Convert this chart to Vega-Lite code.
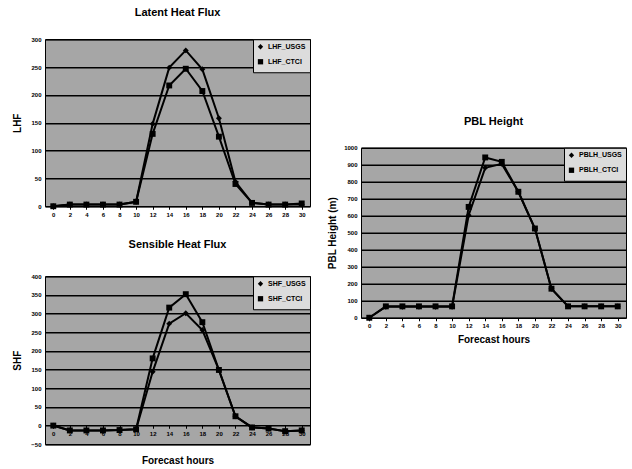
{
  "$schema": "https://vega.github.io/schema/vega-lite/v6.json",
  "background": "white",
  "padding": {"left": 12, "top": 6, "right": 2, "bottom": 2},
  "datasets": {
    "lhf": [
      {"hour": 0, "series": "LHF_USGS", "value": 0}, {"hour": 2, "series": "LHF_USGS", "value": 3}, {"hour": 4, "series": "LHF_USGS", "value": 3}, {"hour": 6, "series": "LHF_USGS", "value": 3}, {"hour": 8, "series": "LHF_USGS", "value": 3}, {"hour": 10, "series": "LHF_USGS", "value": 8}, {"hour": 12, "series": "LHF_USGS", "value": 148}, {"hour": 14, "series": "LHF_USGS", "value": 249}, {"hour": 16, "series": "LHF_USGS", "value": 280}, {"hour": 18, "series": "LHF_USGS", "value": 246}, {"hour": 20, "series": "LHF_USGS", "value": 158}, {"hour": 22, "series": "LHF_USGS", "value": 44}, {"hour": 24, "series": "LHF_USGS", "value": 6}, {"hour": 26, "series": "LHF_USGS", "value": 3}, {"hour": 28, "series": "LHF_USGS", "value": 3}, {"hour": 30, "series": "LHF_USGS", "value": 3},
      {"hour": 0, "series": "LHF_CTCI", "value": 0}, {"hour": 2, "series": "LHF_CTCI", "value": 3}, {"hour": 4, "series": "LHF_CTCI", "value": 3}, {"hour": 6, "series": "LHF_CTCI", "value": 3}, {"hour": 8, "series": "LHF_CTCI", "value": 3}, {"hour": 10, "series": "LHF_CTCI", "value": 8}, {"hour": 12, "series": "LHF_CTCI", "value": 130}, {"hour": 14, "series": "LHF_CTCI", "value": 217}, {"hour": 16, "series": "LHF_CTCI", "value": 247}, {"hour": 18, "series": "LHF_CTCI", "value": 207}, {"hour": 20, "series": "LHF_CTCI", "value": 125}, {"hour": 22, "series": "LHF_CTCI", "value": 40}, {"hour": 24, "series": "LHF_CTCI", "value": 6}, {"hour": 26, "series": "LHF_CTCI", "value": 3}, {"hour": 28, "series": "LHF_CTCI", "value": 3}, {"hour": 30, "series": "LHF_CTCI", "value": 5}
    ],
    "shf": [
      {"hour": 0, "series": "SHF_USGS", "value": 0}, {"hour": 2, "series": "SHF_USGS", "value": -13}, {"hour": 4, "series": "SHF_USGS", "value": -13}, {"hour": 6, "series": "SHF_USGS", "value": -13}, {"hour": 8, "series": "SHF_USGS", "value": -12}, {"hour": 10, "series": "SHF_USGS", "value": -10}, {"hour": 12, "series": "SHF_USGS", "value": 144}, {"hour": 14, "series": "SHF_USGS", "value": 273}, {"hour": 16, "series": "SHF_USGS", "value": 301}, {"hour": 18, "series": "SHF_USGS", "value": 256}, {"hour": 20, "series": "SHF_USGS", "value": 149}, {"hour": 22, "series": "SHF_USGS", "value": 25}, {"hour": 24, "series": "SHF_USGS", "value": -5}, {"hour": 26, "series": "SHF_USGS", "value": -8}, {"hour": 28, "series": "SHF_USGS", "value": -15}, {"hour": 30, "series": "SHF_USGS", "value": -13},
      {"hour": 0, "series": "SHF_CTCI", "value": 0}, {"hour": 2, "series": "SHF_CTCI", "value": -13}, {"hour": 4, "series": "SHF_CTCI", "value": -13}, {"hour": 6, "series": "SHF_CTCI", "value": -13}, {"hour": 8, "series": "SHF_CTCI", "value": -12}, {"hour": 10, "series": "SHF_CTCI", "value": -10}, {"hour": 12, "series": "SHF_CTCI", "value": 180}, {"hour": 14, "series": "SHF_CTCI", "value": 316}, {"hour": 16, "series": "SHF_CTCI", "value": 352}, {"hour": 18, "series": "SHF_CTCI", "value": 277}, {"hour": 20, "series": "SHF_CTCI", "value": 149}, {"hour": 22, "series": "SHF_CTCI", "value": 25}, {"hour": 24, "series": "SHF_CTCI", "value": -5}, {"hour": 26, "series": "SHF_CTCI", "value": -8}, {"hour": 28, "series": "SHF_CTCI", "value": -15}, {"hour": 30, "series": "SHF_CTCI", "value": -13}
    ],
    "pbl": [
      {"hour": 0, "series": "PBLH_USGS", "value": 0}, {"hour": 2, "series": "PBLH_USGS", "value": 65}, {"hour": 4, "series": "PBLH_USGS", "value": 65}, {"hour": 6, "series": "PBLH_USGS", "value": 65}, {"hour": 8, "series": "PBLH_USGS", "value": 65}, {"hour": 10, "series": "PBLH_USGS", "value": 65}, {"hour": 12, "series": "PBLH_USGS", "value": 603}, {"hour": 14, "series": "PBLH_USGS", "value": 882}, {"hour": 16, "series": "PBLH_USGS", "value": 905}, {"hour": 18, "series": "PBLH_USGS", "value": 741}, {"hour": 20, "series": "PBLH_USGS", "value": 525}, {"hour": 22, "series": "PBLH_USGS", "value": 171}, {"hour": 24, "series": "PBLH_USGS", "value": 67}, {"hour": 26, "series": "PBLH_USGS", "value": 67}, {"hour": 28, "series": "PBLH_USGS", "value": 67}, {"hour": 30, "series": "PBLH_USGS", "value": 67},
      {"hour": 0, "series": "PBLH_CTCI", "value": 0}, {"hour": 2, "series": "PBLH_CTCI", "value": 67}, {"hour": 4, "series": "PBLH_CTCI", "value": 67}, {"hour": 6, "series": "PBLH_CTCI", "value": 67}, {"hour": 8, "series": "PBLH_CTCI", "value": 67}, {"hour": 10, "series": "PBLH_CTCI", "value": 67}, {"hour": 12, "series": "PBLH_CTCI", "value": 652}, {"hour": 14, "series": "PBLH_CTCI", "value": 943}, {"hour": 16, "series": "PBLH_CTCI", "value": 917}, {"hour": 18, "series": "PBLH_CTCI", "value": 741}, {"hour": 20, "series": "PBLH_CTCI", "value": 525}, {"hour": 22, "series": "PBLH_CTCI", "value": 171}, {"hour": 24, "series": "PBLH_CTCI", "value": 67}, {"hour": 26, "series": "PBLH_CTCI", "value": 67}, {"hour": 28, "series": "PBLH_CTCI", "value": 67}, {"hour": 30, "series": "PBLH_CTCI", "value": 67}
    ]
  },
  "config": {
    "font": "Liberation Sans",
    "view": {"stroke": "black", "strokeWidth": 1, "fill": "#a6a6a6"},
    "axis": {
      "labelFont": "Liberation Sans", "labelFontWeight": "bold", "labelFontSize": 6, "labelColor": "black",
      "titleFont": "Liberation Sans", "titleFontWeight": "bold", "titleFontSize": 10, "titleColor": "black",
      "domainColor": "black", "tickColor": "black", "tickSize": 3, "labelPadding": 2,
      "gridColor": "black", "gridWidth": 1.3, "gridOpacity": 1
    },
    "axisX": {"grid": false, "labelAngle": 0, "domain": false},
    "axisY": {"domain": false, "ticks": false, "labelPadding": 4, "format": "d"},
    "title": {"font": "Liberation Sans", "fontSize": 11, "fontWeight": "bold", "color": "black", "anchor": "middle"},
    "point": {"size": 35},
    "legend": {
      "orient": "top-right", "offset": 0, "padding": 4, "fillColor": "#dcdcdc", "strokeColor": "black",
      "labelFont": "Liberation Sans", "labelFontSize": 7, "labelFontWeight": "bold", "labelColor": "black",
      "rowPadding": 2, "symbolSize": 28, "symbolFillColor": "black", "symbolStrokeColor": "black", "title": null
    }
  },
  "center": true,
  "spacing": 16,
  "hconcat": [
    {
      "spacing": 20,
      "resolve": {"scale": {"shape": "independent"}, "legend": {"shape": "independent"}},
      "vconcat": [
        {
          "title": {"text": "Latent Heat Flux", "offset": 18},
          "width": 265, "height": 167,
          "data": {"name": "lhf"},
          "encoding": {
            "x": {"field": "hour", "type": "ordinal", "scale": {"type": "point", "padding": 0.5}, "axis": {"title": null}},
            "y": {"field": "value", "type": "quantitative", "scale": {"domain": [0, 300], "nice": false}, "axis": {"title": "LHF", "values": [0, 50, 100, 150, 200, 250, 300], "titlePadding": 8}}
          },
          "layer": [
            {"mark": {"type": "line", "color": "black", "strokeWidth": 2}, "encoding": {"detail": {"field": "series"}}},
            {"mark": {"type": "point", "filled": true, "color": "black", "opacity": 1},
             "encoding": {
               "shape": {"field": "series", "type": "nominal", "scale": {"domain": ["LHF_USGS", "LHF_CTCI"], "range": ["diamond", "square"]}}
             }}
          ]
        },
        {
          "title": {"text": "Sensible Heat Flux", "offset": 23},
          "width": 265, "height": 168,
          "data": {"name": "shf"},
          "encoding": {
            "x": {"field": "hour", "type": "ordinal", "scale": {"type": "point", "padding": 0.5}, "axis": {"title": "Forecast hours", "offset": -19, "titlePadding": 19}},
            "y": {"field": "value", "type": "quantitative", "scale": {"domain": [-50, 400], "nice": false}, "axis": {"title": "SHF", "values": [-50, 0, 50, 100, 150, 200, 250, 300, 350, 400], "titlePadding": 8}}
          },
          "layer": [
            {"mark": {"type": "line", "color": "black", "strokeWidth": 2}, "encoding": {"detail": {"field": "series"}}},
            {"mark": {"type": "point", "filled": true, "color": "black", "opacity": 1},
             "encoding": {
               "shape": {"field": "series", "type": "nominal", "scale": {"domain": ["SHF_USGS", "SHF_CTCI"], "range": ["diamond", "square"]}}
             }}
          ]
        }
      ]
    },
    {
      "title": {"text": "PBL Height", "offset": 18},
      "width": 265, "height": 170,
      "data": {"name": "pbl"},
      "encoding": {
        "x": {"field": "hour", "type": "ordinal", "scale": {"type": "point", "padding": 0.5}, "axis": {"title": ["Forecast hours", " "], "titlePadding": 6}},
        "y": {"field": "value", "type": "quantitative", "scale": {"domain": [0, 1000], "nice": false}, "axis": {"title": "PBL Height (m)", "values": [0, 100, 200, 300, 400, 500, 600, 700, 800, 900, 1000], "titlePadding": 6}}
      },
      "layer": [
        {"mark": {"type": "line", "color": "black", "strokeWidth": 2}, "encoding": {"detail": {"field": "series"}}},
        {"mark": {"type": "point", "filled": true, "color": "black", "opacity": 1},
         "encoding": {
           "shape": {"field": "series", "type": "nominal", "scale": {"domain": ["PBLH_USGS", "PBLH_CTCI"], "range": ["diamond", "square"]}}
         }}
      ]
    }
  ],
  "resolve": {"scale": {"shape": "independent"}, "legend": {"shape": "independent"}}
}
